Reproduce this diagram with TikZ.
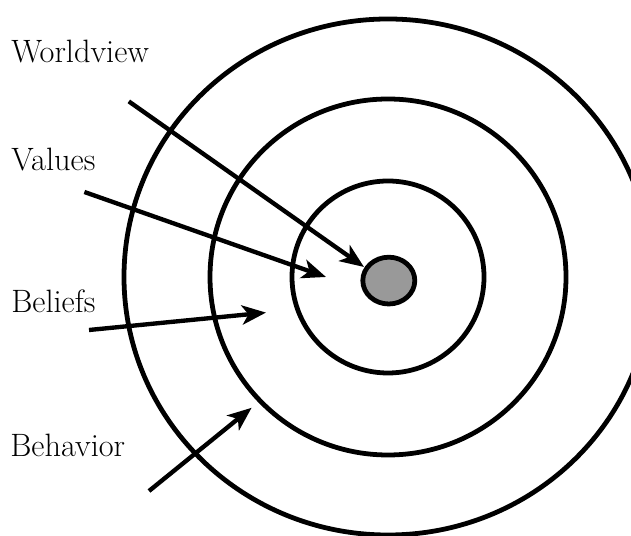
\documentclass[tikz,border=0pt]{standalone}
\usepackage{tikz}
\usetikzlibrary{shapes.geometric, arrows.meta}
\tikzstyle{arrow} = [line width=3.1pt,-{Stealth[length=0.6cm,width=0.48cm,inset=0.16cm]}]
\tikzstyle{ring} = [line width=3.4pt]
\tikzstyle{ringname} = [anchor=base west, inner sep=0pt, font=\fontsize{23}{27}\selectfont]

\begin{document}
\begin{tikzpicture}
    \useasboundingbox (0,0) rectangle (15.775,13.375);

    % Rings
    \coordinate (centre) at (9.7,6.45);
    \draw[ring] (centre) ellipse [x radius=6.6cm, y radius=6.45cm];
    \draw[ring] (centre) circle [radius=4.45cm];
    \draw[ring] (centre) circle [radius=2.4cm];
    \node (core) [ellipse, draw, line width=3.4pt, fill=black!40, inner sep=0pt,
        minimum width=1.3cm, minimum height=1.17cm] at (9.72,6.36) {};

    % Labels
    \node (worldview) [ringname] at (0.275,11.82) {Worldview};
    \node (values) [ringname] at (0.275,9.12) {Values};
    \node (beliefs) [ringname] at (0.275,5.57) {Beliefs};
    \node (behavior) [ringname] at (0.25,1.97) {Behavior};

    % Edges
    \coordinate (wvfrom) at (3.22,10.84);
    \coordinate (wvto) at (9.10,6.70);
    \coordinate (vafrom) at (2.11,8.575);
    \coordinate (vato) at (8.15,6.45);
    \coordinate (befrom) at (2.225,5.125);
    \coordinate (beto) at (6.65,5.56);
    \coordinate (bhfrom) at (3.725,1.10);
    \coordinate (bhto) at (6.29,3.18);
    \draw[arrow] (wvfrom) -- (wvto);
    \draw[arrow] (vafrom) -- (vato);
    \draw[arrow] (befrom) -- (beto);
    \draw[arrow] (bhfrom) -- (bhto);
\end{tikzpicture}
\end{document}
